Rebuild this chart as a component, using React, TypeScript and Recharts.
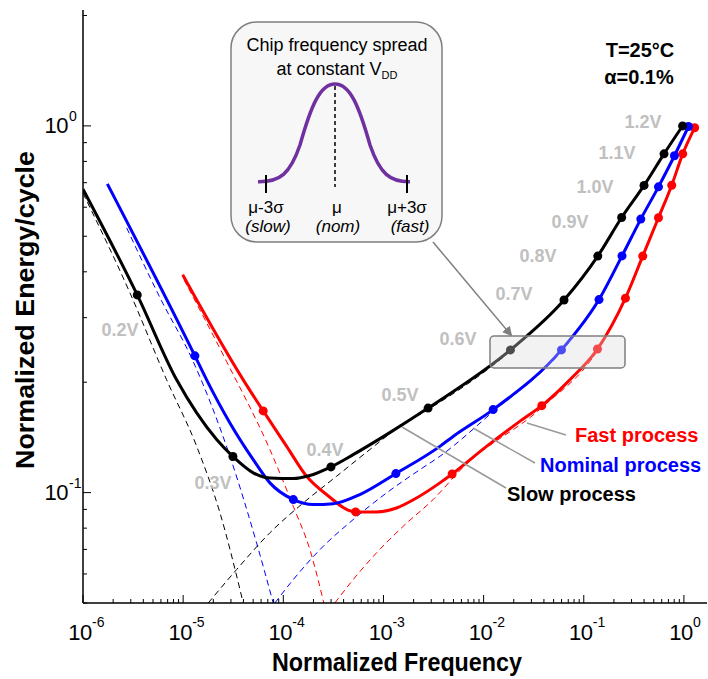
import React from "react";
import { LineChart, Line, XAxis, YAxis } from "recharts";

// Supply-voltage steps marked on each curve (0.2V .. 1.2V)
const VOLTAGES = ["0.2V", "0.3V", "0.4V", "0.5V", "0.6V", "0.7V", "0.8V", "0.9V", "1.0V", "1.1V", "1.2V"];

// Slow process (black) - marker points at each voltage
const slowMarkerF = [3.48e-6, 3.14e-5, 2.99e-4, 2.79e-3, 0.01854, 0.0635, 0.138, 0.239, 0.4, 0.633, 0.97];
const slowMarkerE = [0.346, 0.1254, 0.1175, 0.17, 0.245, 0.335, 0.4415, 0.5625, 0.688, 0.839, 1.0];
// extra points
const slowCurveF = [1.0e-6, 8.61e-6, 1.365e-5, 2.16e-5, 5.01e-5, 7.35e-5, 1.256e-4, 1.842e-4, 4.98e-4, 1.074e-3];
const slowCurveE = [0.672, 0.203, 0.1649, 0.1395, 0.1132, 0.1096, 0.1092, 0.1113, 0.1269, 0.1439];

// Nominal process (blue)
const nomMarkerF = [1.31e-5, 1.26e-4, 1.33e-3, 0.01245, 0.0599, 0.142, 0.241, 0.371, 0.557, 0.804, 1.109];
const nomMarkerE = [0.236, 0.0957, 0.1127, 0.1684, 0.245, 0.336, 0.442, 0.557, 0.682, 0.829, 0.996];
const nomCurveF = [1.75e-6, 1.716e-5, 2.93e-5, 5.01e-5, 7.35e-5, 1.988e-4, 3.15e-4, 5.81e-4, 3.66e-3, 4.96e-3];
const nomCurveE = [0.695, 0.203, 0.1549, 0.123, 0.1063, 0.0928, 0.0933, 0.0988, 0.1337, 0.1423];

// Fast process (red)
const fastMarkerF = [6.3e-5, 5.27e-4, 4.85e-3, 0.0381, 0.137, 0.2606, 0.388, 0.557, 0.7556, 0.973, 1.28];
const fastMarkerE = [0.167, 0.0886, 0.1124, 0.1726, 0.2463, 0.339, 0.4415, 0.5615, 0.689, 0.839, 0.988];
const fastCurveF = [9.89e-6, 3.98e-5, 1.08e-4, 1.708e-4, 2.7e-4, 8.53e-4, 1.35e-3, 2.14e-3, 3.66e-3, 0.01069, 0.02298, 0.0725];
const fastCurveE = [0.3927, 0.203, 0.1337, 0.1108, 0.0988, 0.0886, 0.0908, 0.0967, 0.1063, 0.1337, 0.1564, 0.203];

// Leakage energy components (dashed, falling)
const slowLeakF = [1.0e-6, 2.94e-6, 6.84e-6, 1.365e-5, 2.33e-5, 3.98e-5];
const slowLeakE = [0.655, 0.3507, 0.203, 0.1337, 0.0881, 0.05];
const nomLeakF = [2.73e-6, 5.87e-6, 1.262e-5, 2.93e-5, 5.41e-5, 7.93e-5];
const nomLeakE = [0.527, 0.34, 0.2275, 0.1256, 0.0729, 0.05];
const fastLeakF = [1.019e-5, 2.72e-5, 7.35e-5, 1.256e-4, 1.842e-4, 2.54e-4];
const fastLeakE = [0.3805, 0.2275, 0.131, 0.0918, 0.0699, 0.05];

// Dynamic energy components (dashed, rising)
const slowDynF = [1.78e-5, 3.42e-5, 7.35e-5, 1.58e-4, 3.4e-4, 7.31e-4, 1.46e-3, 2.79e-3, 0.01854, 0.0635];
const slowDynE = [0.05, 0.0617, 0.0777, 0.0937, 0.1108, 0.131, 0.1516, 0.1684, 0.243, 0.334];
const nomDynF = [8.24e-5, 1.256e-4, 2.32e-4, 4.98e-4, 1.074e-3, 2.31e-3, 3.66e-3, 0.01245, 0.0599, 0.142];
const nomDynE = [0.05, 0.0579, 0.0699, 0.0844, 0.0998, 0.1155, 0.1256, 0.1663, 0.243, 0.334];
const fastDynF = [3.27e-4, 4.98e-4, 8.53e-4, 1.572e-3, 3.13e-3, 6.2e-3, 0.0381, 0.137, 0.2606];
const fastDynE = [0.05, 0.0579, 0.0685, 0.0809, 0.0957, 0.117, 0.1705, 0.2437, 0.337];

// axis ticks
const X_MAJOR = [1e-6, 1e-5, 1e-4, 1e-3, 1e-2, 1e-1, 1];
const X_EXP = ["-6", "-5", "-4", "-3", "-2", "-1", "0"];
const Y_MAJOR = [0.1, 1];
const Y_EXP = ["-1", "0"];
const MINOR_STEPS = [2, 3, 4, 5, 6, 7, 8, 9];

const X_DOMAIN = [1e-6, 1.7];
const Y_DOMAIN = [0.05, 2.07];

type Pt = { x: number; y: number; v?: string };

function solidSeries(mf: number[], me: number[], cf: number[], ce: number[]): Pt[] {
  const pts: Pt[] = mf.map((x, i) => ({ x, y: me[i], v: VOLTAGES[i] }));
  cf.forEach((x, i) => pts.push({ x, y: ce[i] }));
  return pts.sort((a, b) => a.x - b.x);
}
const dashedSeries = (f: number[], e: number[]): Pt[] => f.map((x, i) => ({ x, y: e[i] }));

const slowSolid = solidSeries(slowMarkerF, slowMarkerE, slowCurveF, slowCurveE);
const nomSolid = solidSeries(nomMarkerF, nomMarkerE, nomCurveF, nomCurveE);
const fastSolid = solidSeries(fastMarkerF, fastMarkerE, fastCurveF, fastCurveE);

const allTicks = (majors: number[], lo: number, hi: number) => {
  const t: number[] = [];
  majors.concat([majors[0] / 10]).forEach((m) => {
    t.push(m);
    MINOR_STEPS.forEach((s) => t.push(m * s));
  });
  return t.filter((v) => v >= lo * 0.9999 && v <= hi).sort((a, b) => a - b);
};
const xTicks = allTicks(X_MAJOR, X_DOMAIN[0], X_DOMAIN[1]);
const yTicks = allTicks(Y_MAJOR, Y_DOMAIN[0], Y_DOMAIN[1]);

const majorIdx = (list: number[], v: number) =>
  list.findIndex((m) => Math.abs(Math.log10(v) - Math.log10(m)) < 1e-6);

const FONT = "'Liberation Sans', Arial, Helvetica, sans-serif";
const COLORS = { slow: "#000000", nom: "#0000ff", fast: "#ff0000" };

const BottomTick = (p: any) => {
  const i = majorIdx(X_MAJOR, p.payload.value);
  return (
    <g>
      <line x1={p.x} x2={p.x} y1={p.y} y2={p.y - (i >= 0 ? 8 : 4)} stroke="#000" />
      {i >= 0 && (
        <g fontFamily={FONT}>
          <text x={p.x - 3} y={p.y + 37} fontSize={22} textAnchor="middle" fill="#000" letterSpacing={-0.5}>10</text>
          <text x={p.x + 9} y={p.y + 24} fontSize={14} fill="#000">{X_EXP[i]}</text>
        </g>
      )}
    </g>
  );
};

const TopTick = (p: any) => {
  const major = majorIdx(X_MAJOR, p.payload.value) >= 0;
  return <line x1={p.x} x2={p.x} y1={p.y} y2={p.y + (major ? 8 : 4)} stroke="#000" />;
};

const LeftTick = (p: any) => {
  const i = majorIdx(Y_MAJOR, p.payload.value);
  return (
    <g>
      <line x1={p.x} x2={p.x + (i >= 0 ? 8 : 4)} y1={p.y} y2={p.y} stroke="#000" />
      {i >= 0 && (
        <g fontFamily={FONT}>
          <text x={p.x - 15} y={p.y + 7} fontSize={22} textAnchor="end" fill="#000" letterSpacing={-0.5}>10</text>
          <text x={p.x - 14} y={p.y - 5} fontSize={14} fill="#000">{Y_EXP[i]}</text>
        </g>
      )}
    </g>
  );
};

const RightTick = (p: any) => {
  const major = majorIdx(Y_MAJOR, p.payload.value) >= 0;
  return <line x1={p.x} x2={p.x - (major ? 8 : 4)} y1={p.y} y2={p.y} stroke="#000" />;
};

const markerDot = (color: string) => (p: any) =>
  p.payload && p.payload.v ? (
    <circle key={`d-${p.index}`} cx={p.cx} cy={p.cy} r={4.5} fill={color} stroke="none" />
  ) : (
    <g key={`d-${p.index}`} />
  );

// annotation text positions (pixels)
const voltLabels: [string, number, number][] = [
  ["0.2V", 120, 330], ["0.3V", 213, 483], ["0.4V", 325, 450], ["0.5V", 400, 395],
  ["0.6V", 458, 339], ["0.7V", 514, 294], ["0.8V", 538, 256], ["0.9V", 570, 222],
  ["1.0V", 595, 187], ["1.1V", 617, 153], ["1.2V", 643, 122],
];

function Overlay() {
  return (
    <svg width={708} height={679} style={{ position: "absolute", left: 0, top: 0, pointerEvents: "none" }} fontFamily={FONT}>
      <defs>
        <marker id="arrowHead" markerWidth="10" markerHeight="10" refX="8" refY="5" orient="auto" markerUnits="userSpaceOnUse">
          <path d="M0,0 L10,5 L0,10 z" fill="#7f7f7f" />
        </marker>
      </defs>

      {/* highlight box around 0.6V points */}
      <rect x={490} y={336} width={135} height={32} rx={4} fill="#d9d9d9" fillOpacity={0.35} stroke="#7f7f7f" strokeWidth={1.5} />

      {/* inset: chip frequency spread */}
      <rect x={231} y={22} width={211} height={220} rx={26} fill="#f7f7f7" stroke="#7f7f7f" strokeWidth={1.5} />
      <text x={337} y={51} fontSize={18} textAnchor="middle" fill="#000">Chip frequency spread</text>
      <text x={337} y={75} fontSize={18} textAnchor="middle" fill="#000">
        at constant V<tspan fontSize={11} dy={4}>DD</tspan>
      </text>
      <path
        d="M258,181.7 C280,182 290,174 300,145 C311,106 320,84 335,84 C350,84 359,106 370,145 C380,174 390,182 410,181.7"
        fill="none" stroke="#7030a0" strokeWidth={3.5}
      />
      <line x1={335} y1={86} x2={335} y2={187} stroke="#000" strokeWidth={1.5} strokeDasharray="4 3" />
      <line x1={266} y1={175} x2={266} y2={193} stroke="#000" strokeWidth={2} />
      <line x1={407} y1={175} x2={407} y2={193} stroke="#000" strokeWidth={2} />
      <text x={266} y={213} fontSize={17} textAnchor="middle">μ-3σ</text>
      <text x={337} y={213} fontSize={17} textAnchor="middle">μ</text>
      <text x={407} y={213} fontSize={17} textAnchor="middle">μ+3σ</text>
      <text x={268} y={232} fontSize={17} fontStyle="italic" textAnchor="middle">(slow)</text>
      <text x={338} y={232} fontSize={17} fontStyle="italic" textAnchor="middle">(nom)</text>
      <text x={410} y={232} fontSize={17} fontStyle="italic" textAnchor="middle">(fast)</text>

      <line x1={433} y1={242} x2={511} y2={335} stroke="#7f7f7f" strokeWidth={1.5} markerEnd="url(#arrowHead)" />

      {/* conditions */}
      <text x={640} y={57} fontSize={20} fontWeight="bold" textAnchor="middle">T=25°C</text>
      <text x={639} y={84} fontSize={20} fontWeight="bold" textAnchor="middle">α=0.1%</text>

      {voltLabels.map(([t, x, y]) => (
        <text key={t} x={x} y={y} fontSize={18} fontWeight="bold" fill="#c0c0c0" textAnchor="middle" dominantBaseline="central">{t}</text>
      ))}

      {/* process labels with leader lines */}
      <line x1={566} y1={435} x2={527} y2={423} stroke="#999" strokeWidth={1.5} />
      <line x1={535} y1={463} x2={473} y2={428} stroke="#999" strokeWidth={1.5} />
      <line x1={506} y1={488} x2={402} y2={427} stroke="#999" strokeWidth={1.5} />
      <text x={575} y={442} fontSize={20} fontWeight="bold" fill={COLORS.fast}>Fast process</text>
      <text x={540} y={472} fontSize={20} fontWeight="bold" fill={COLORS.nom}>Nominal process</text>
      <text x={507} y={501} fontSize={20} fontWeight="bold" fill={COLORS.slow}>Slow process</text>

      {/* axis titles */}
      <text x={397} y={671} fontSize={25} fontWeight="bold" textAnchor="middle" textLength={250} lengthAdjust="spacingAndGlyphs">Normalized Frequency</text>
      <text transform="translate(34,310) rotate(-90)" fontSize={26} fontWeight="bold" textAnchor="middle" textLength={318} lengthAdjust="spacingAndGlyphs">Normalized Energy/cycle</text>
    </svg>
  );
}

export default function App() {
  const dashed = (key: string, data: Pt[], color: string) => (
    <Line key={key} data={data} dataKey="y" type="monotone" stroke={color} strokeWidth={1}
      strokeDasharray="6 4" dot={false} activeDot={false} isAnimationActive={false} />
  );
  const solid = (key: string, data: Pt[], color: string) => (
    <Line key={key} data={data} dataKey="y" type="monotone" stroke={color} strokeWidth={3}
      dot={markerDot(color)} activeDot={false} isAnimationActive={false} />
  );
  return (
    <div style={{ position: "absolute", left: 0, top: 0, width: 708, height: 679, background: "#fff", fontFamily: FONT }}>
      <LineChart width={708} height={679} margin={{ top: 10, right: 1, bottom: 0, left: 0 }}>
        <XAxis dataKey="x" type="number" scale="log" domain={X_DOMAIN} allowDataOverflow ticks={xTicks}
          interval={0} height={76} tickSize={0} tickMargin={0} tick={BottomTick}
          axisLine={{ stroke: "#000", strokeWidth: 1.5 }} tickLine={false} />
        <XAxis xAxisId="top" orientation="top" dataKey="x" type="number" scale="log" domain={X_DOMAIN}
          allowDataOverflow ticks={xTicks} interval={0} height={0} tickSize={0} tickMargin={0} tick={TopTick}
          axisLine={{ stroke: "#000", strokeWidth: 1.5 }} tickLine={false} />
        <YAxis type="number" scale="log" domain={Y_DOMAIN} allowDataOverflow ticks={yTicks} interval={0}
          width={83} tickSize={0} tickMargin={0} tick={LeftTick}
          axisLine={{ stroke: "#000", strokeWidth: 1.5 }} tickLine={false} />
        <YAxis yAxisId="right" orientation="right" type="number" scale="log" domain={Y_DOMAIN} allowDataOverflow
          ticks={yTicks} interval={0} width={0} tickSize={0} tickMargin={0} tick={RightTick}
          axisLine={{ stroke: "#000", strokeWidth: 1.5 }} tickLine={false} />
        {dashed("slowLeak", dashedSeries(slowLeakF, slowLeakE), COLORS.slow)}
        {dashed("nomLeak", dashedSeries(nomLeakF, nomLeakE), COLORS.nom)}
        {dashed("fastLeak", dashedSeries(fastLeakF, fastLeakE), COLORS.fast)}
        {dashed("slowDyn", dashedSeries(slowDynF, slowDynE), COLORS.slow)}
        {dashed("nomDyn", dashedSeries(nomDynF, nomDynE), COLORS.nom)}
        {dashed("fastDyn", dashedSeries(fastDynF, fastDynE), COLORS.fast)}
        {solid("fast", fastSolid, COLORS.fast)}
        {solid("nom", nomSolid, COLORS.nom)}
        {solid("slow", slowSolid, COLORS.slow)}
      </LineChart>
      <Overlay />
    </div>
  );
}
